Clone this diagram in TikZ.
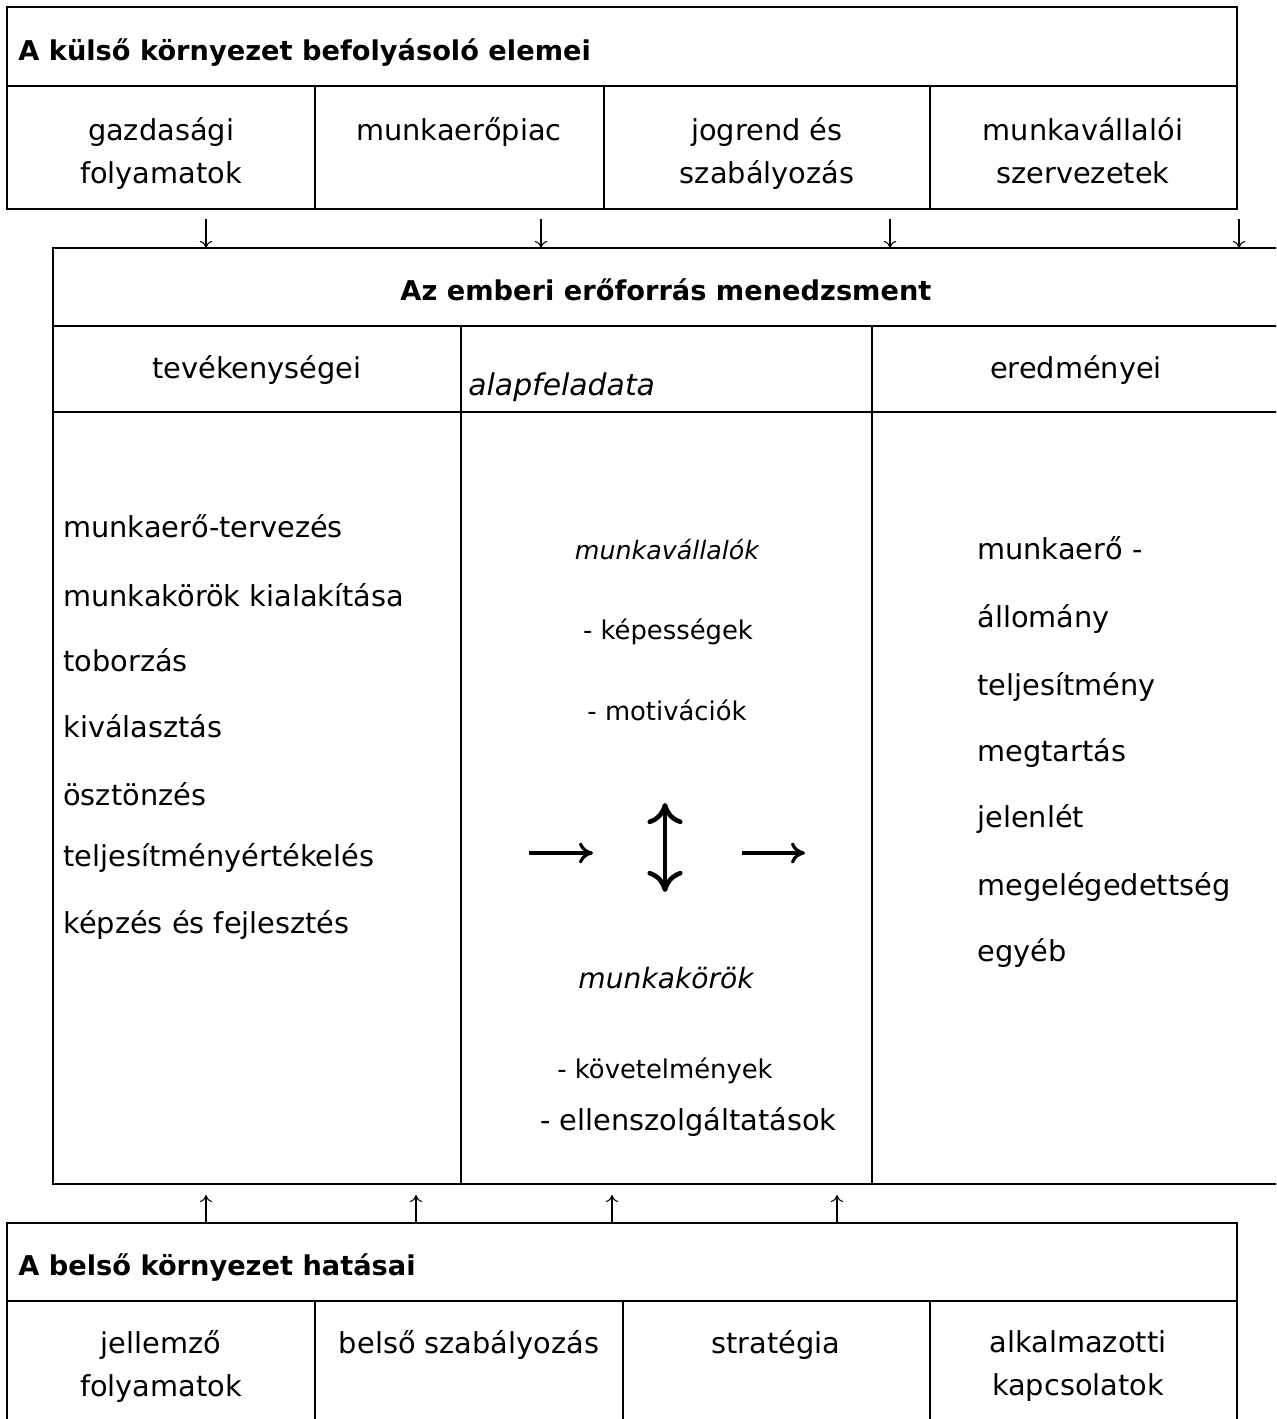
\documentclass[tikz,border=0pt]{standalone}
\usepackage{fontspec}
\setmainfont{DejaVu Sans}
\usepackage{tikz}
\usetikzlibrary{arrows.meta}
\tikzset{
  boxframe/.style={draw, line width=1.3pt, inner sep=0, outer sep=0},
  rule/.style={line width=1.3pt},
  hd/.style={font=\fontsize{15.5}{18}\selectfont\bfseries, inner sep=0},
  txt/.style={font=\fontsize{16.4}{24.4}\selectfont, inner sep=0, align=center},
  sm/.style={font=\fontsize{14.7}{18}\selectfont, inner sep=0},
  thinarr/.style={line width=0.6pt, -{Computer Modern Rightarrow[length=4pt,width=7pt]}},
  bigarr/.style={line width=1.8pt, -{Computer Modern Rightarrow[length=8pt,width=12pt]}},
  dblarr/.style={line width=2.6pt,
    {Computer Modern Rightarrow[length=12pt,width=20pt]}-{Computer Modern Rightarrow[length=12pt,width=20pt]}}
}

\begin{document}
\begin{tikzpicture}[x=0.02cm, y=-0.02cm]
\useasboundingbox (0,0) rectangle (1276,1419);
\clip (0,0) rectangle (1276,1419);

% ---- outer environment ----
\node[boxframe, minimum width=24.6cm, minimum height=4.04cm, anchor=north west] (ext) at (7,7) {};
\draw[rule] (7,86) -- (1237,86);
\foreach \x in {315,604,930}
  \draw[rule] (\x,86) -- (\x,209);
\node[hd, anchor=base west] (exthd) at (18,61) {A külső környezet befolyásoló elemei};
\node[txt, anchor=north] (ext1) at (161,117) {gazdasági\\folyamatok};
\node[txt, anchor=north] (ext2) at (459,117) {munkaerőpiac};
\node[txt, anchor=north] (ext3) at (767,117) {jogrend és\\szabályozás};
\node[txt, anchor=north] (ext4) at (1083,117) {munkavállalói\\szervezetek};

% ---- HRM ----
\node[boxframe, minimum width=24.54cm, minimum height=18.72cm, anchor=north west] (hrm) at (53,248) {};
\draw[rule] (53,326) -- (1280,326);
\draw[rule] (53,412) -- (1280,412);
\foreach \x in {461,872}
  \draw[rule] (\x,326) -- (\x,1184);
\node[hd, anchor=base] (hrmhd) at (666,300) {Az emberi erőforrás menedzsment};
\node[txt, anchor=base] (col1) at (257,378) {tevékenységei};
\node[txt, anchor=base west, font=\fontsize{17}{20}\selectfont\itshape] (col2) at (468,395) {alapfeladata};
\node[txt, anchor=base] (col3) at (1076,378) {eredményei};

% activities
\foreach \y/\t [count=\i] in {537/munkaerő-tervezés, 606/munkakörök kialakítása, 671/toborzás,
                              737/kiválasztás, 805/ösztönzés, 866/teljesítményértékelés,
                              933/képzés és fejlesztés}
  \node[txt, anchor=base west] (act\i) at (63,\y) {\t};

% results
\foreach \y/\t [count=\i] in {559/munkaerő -, 627/állomány, 695/teljesítmény, 761/megtartás,
                              827/jelenlét, 895/megelégedettség, 961/egyéb}
  \node[txt, anchor=base west] (res\i) at (977,\y) {\t};

% core task
\node[sm, anchor=base, font=\fontsize{14.4}{18}\selectfont\itshape] (emp) at (667,559) {munkavállalók};
\node[sm, anchor=base] (empcap) at (668,639) {- képességek};
\node[sm, anchor=base] (empmot) at (667,720) {- motivációk};
\node[txt, anchor=base, font=\fontsize{16}{20}\selectfont\itshape] (job) at (666,988) {munkakörök};
\node[sm, anchor=base west] (jobreq) at (557,1078) {- követelmények};
\node[txt, anchor=base west] (jobpay) at (540,1130) {- ellenszolgáltatások};

\coordinate (ra) at (529,853);
\coordinate (rb) at (593,853);
\coordinate (ua) at (665,803);
\coordinate (ub) at (665,892);
\coordinate (rc) at (742,853);
\coordinate (rd) at (805,853);
\draw[bigarr] (ra) -- (rb);
\draw[dblarr] (ua) -- (ub);
\draw[bigarr] (rc) -- (rd);

% ---- inner environment ----
\node[boxframe, minimum width=24.6cm, minimum height=4.2cm, anchor=north west] (intl) at (7,1223) {};
\draw[rule] (7,1301) -- (1237,1301);
\foreach \x in {315,623,930}
  \draw[rule] (\x,1301) -- (\x,1433);
\node[hd, anchor=base west] (intlhd) at (18,1275) {A belső környezet hatásai};
\node[txt, anchor=north] (int1) at (161,1330) {jellemző\\folyamatok};
\node[txt, anchor=north] (int2) at (469,1330) {belső szabályozás};
\node[txt, anchor=north] (int3) at (776,1330) {stratégia};
\node[txt, anchor=north] (int4) at (1078,1330) {alkalmazotti\\kapcsolatok};

% ---- influences ----
\foreach \x [count=\i] in {206,541,890,1239}{
  \coordinate (dn\i) at (\x,219);
  \draw[thinarr] (dn\i) -- (dn\i |- hrm.north);
}
\foreach \x [count=\i] in {206,416,612,837}{
  \coordinate (up\i) at (\x,1195);
  \draw[thinarr] (up\i |- intl.north) -- (up\i);
}
\end{tikzpicture}
\end{document}
